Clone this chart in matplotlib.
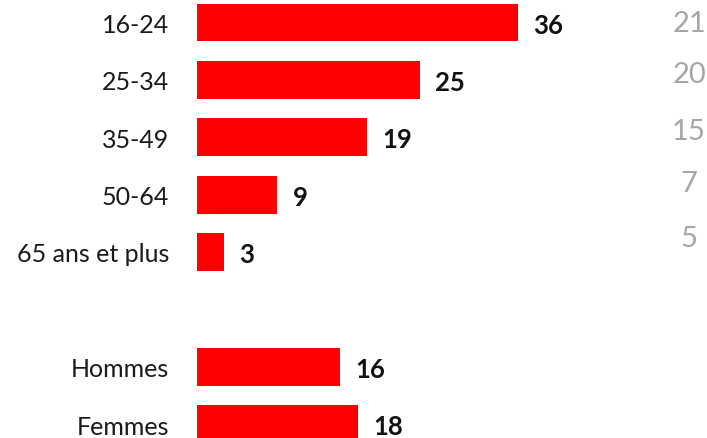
import matplotlib
matplotlib.use("Agg")
import matplotlib.pyplot as plt

# Share by group (bars) and comparison figures (right column)
categories = ["16-24", "25-34", "35-49", "50-64", "65 ans et plus", "Hommes", "Femmes"]
values = [36, 25, 19, 9, 3, 16, 18]
positions = [0, 1, 2, 3, 4, 6, 7]
side_values = ["21", "20", "15", "7", "5"]

plt.rcParams["font.family"] = ["Lato", "DejaVu Sans"]

W, H = 707, 439
fig = plt.figure(figsize=(W / 100, H / 100), dpi=100)
ax = fig.add_axes([197 / W, 0, 357 / W, 1])

ax.barh(positions, values, height=0.66, color="#FF0000", edgecolor="none")
ax.set_xlim(0, 40)
ax.set_ylim(7.244, -0.41)

ax.set_yticks(positions)
ax.set_yticklabels(categories, fontsize=18, color="#1a1a1a")
ax.tick_params(axis="y", length=0, pad=20)
ax.set_xticks([])
for s in ax.spines.values():
    s.set_visible(False)

for p, v in zip(positions, values):
    ax.annotate(str(v), xy=(v, p), xytext=(11, 0), textcoords="offset points",
                ha="left", va="center_baseline", fontsize=18.5, fontweight="bold",
                color="#111111")

side_y = [22, 73, 130, 182, 237]
for txt, y in zip(side_values, side_y):
    fig.text(689 / W, 1 - y / H, txt, ha="center", va="center_baseline",
             fontsize=21, color="#A6A6A6")

fig.savefig("out.png", dpi=100)
